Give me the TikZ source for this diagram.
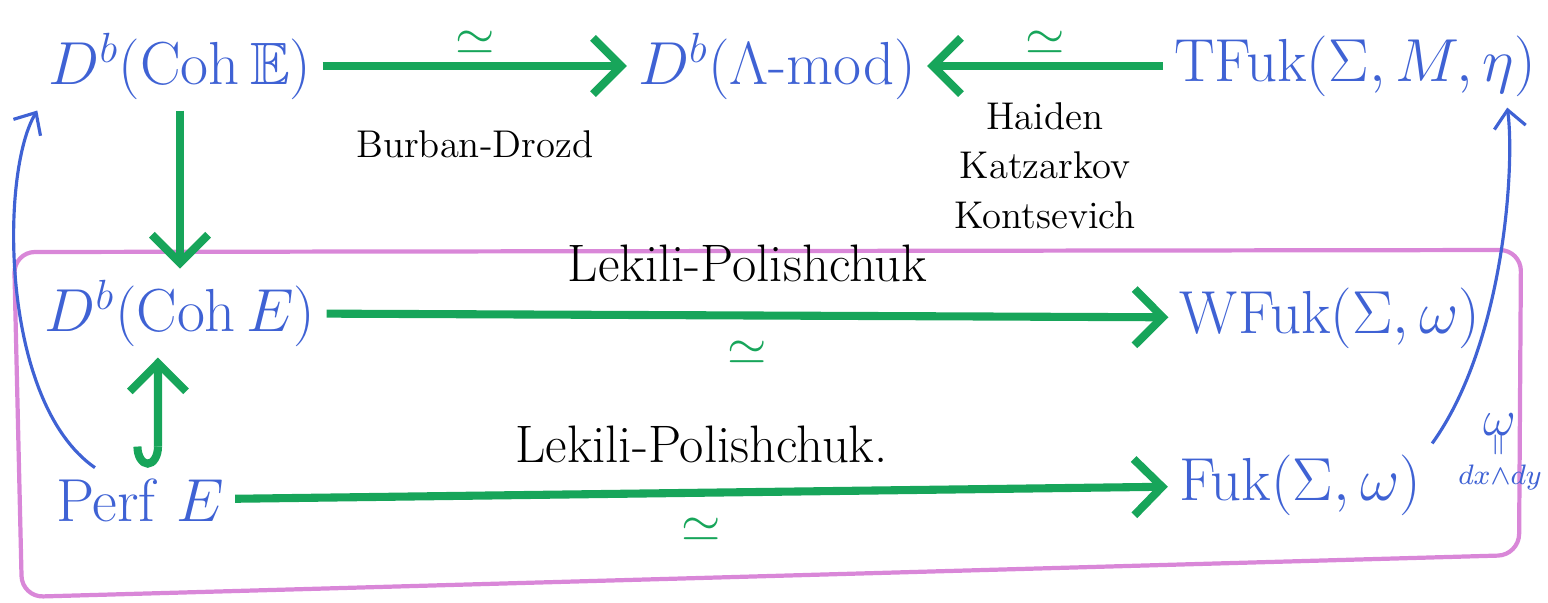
\documentclass[tikz,border=0pt]{standalone}
\usepackage{amsmath,amssymb}
\usetikzlibrary{arrows.meta, positioning}
\definecolor{penblue}{HTML}{3F62D4}
\definecolor{pengreen}{HTML}{17A55A}
\definecolor{penpink}{HTML}{D987D8}
\newcommand{\Coh}{\mathrm{Coh}}
\newcommand{\Fk}{\mathrm{Fuk}}

\begin{document}
\begin{tikzpicture}[x=0.01cm, y=0.01cm,
  obj/.style={text=penblue, font=\fontsize{17}{20}\selectfont, inner sep=3pt},
  iso/.style={draw=pengreen, line width=2.3pt, -{Straight Barb[length=8pt, width=16pt]}},
  isomark/.style={text=pengreen, font=\fontsize{15}{18}\selectfont, inner sep=1pt},
  who/.style={font=\fontsize{11}{14}\selectfont, align=center},
  whobig/.style={font=\fontsize{15}{18}\selectfont},
  conn/.style={draw=penblue, line width=0.9pt, -{Straight Barb[length=5pt, width=9pt]}}]
  \useasboundingbox (0,0) rectangle (1548,602);

  % the box round the two lower rows
  \draw[penpink, line width=1.2pt, rounded corners=6pt]
    (14,350) -- (1521,352) -- (1519,47) -- (22,5) -- cycle;

  % objects
  \node[obj] (cohEE) at (180,536) {$D^b(\Coh\,\mathbb{E})$};
  \node[obj] (lmod)  at (777,536) {$D^b(\Lambda\text{-}\mathrm{mod})$};
  \node[obj] (tfuk)  at (1355,536) {$\mathrm{T}\Fk(\Sigma, M, \eta)$};
  \node[obj] (cohE)  at (180,289) {$D^b(\Coh\,E)$};
  \node[obj] (wfuk)  at (1330,284) {$\mathrm{W}\Fk(\Sigma, \omega)$};
  \node[obj] (perf)  at (140,102) {$\mathrm{Perf}\;E$};
  \node[obj] (fuk)   at (1300,117) {$\Fk(\Sigma, \omega)$};
  \node[text=penblue, font=\fontsize{8}{9}\selectfont, align=center, inner sep=0pt] (form) at (1500,150)
    {\fontsize{14}{14}\selectfont$\omega$\\[-3pt]\rotatebox{90}{$=$}\\[-1pt]$dx{\wedge}dy$};

  % green maps
  \draw[iso] (cohEE) -- (lmod)
    node[midway, above=1pt, isomark] {$\simeq$}
    node[midway, below=14pt, who] {Burban-Drozd};
  \draw[iso] (tfuk) -- (lmod)
    node[midway, above=1pt, isomark] {$\simeq$}
    node[midway, below=6pt, who] {Haiden\\Katzarkov\\Kontsevich};
  \draw[iso] (cohEE) -- (cohE);
  \draw[iso] (cohE) -- (wfuk)
    node[midway, above=5pt, whobig] {Lekili-Polishchuk}
    node[midway, below=5pt, isomark] {$\simeq$};
  \draw[iso] (perf) -- (fuk)
    node[midway, above=4pt, whobig] {Lekili-Polishchuk.}
    node[midway, below=5pt, isomark] {$\simeq$};
  \draw[draw=pengreen, line width=2.3pt, {Hooks[right, length=6pt, width=14pt]}-{Straight Barb[length=8pt, width=16pt]}]
    ([xshift=0.18cm]perf.north) -- ([xshift=-0.22cm]cohE.south);

  % blue maps
  \draw[conn] ([xshift=0.5cm]perf.north west) .. controls (0,200) and (0,430) .. (cohEE.south west);
  \draw[conn] (fuk.north east) .. controls (1505,260) and (1515,440) .. ([xshift=-0.4cm]tfuk.south east);
\end{tikzpicture}
\end{document}
